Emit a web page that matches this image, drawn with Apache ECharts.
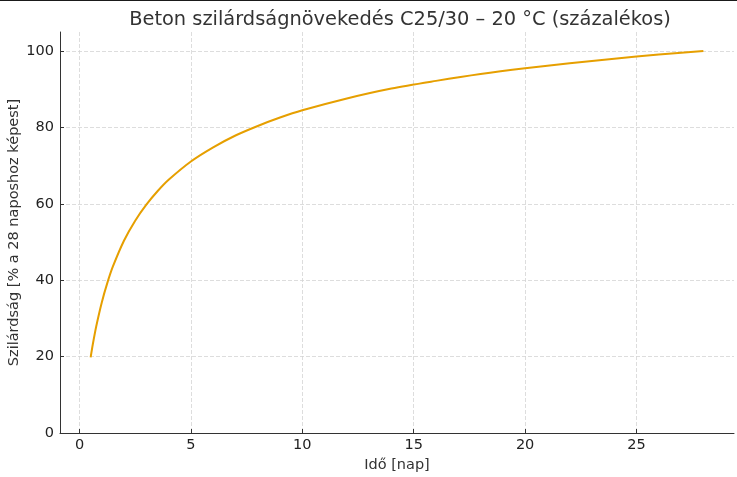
<!DOCTYPE html>
<html>
<head>
<meta charset="utf-8">
<script src="https://cdn.jsdelivr.net/npm/echarts@6/dist/echarts.min.js"></script>
<style>html,body{margin:0;padding:0;background:#fff}#c{width:737px;height:477px}</style>
</head>
<body>
<div id="c"></div>
<script>
const titleText = 'Beton szilárdságnövekedés C25/30 – 20 °C (százalékos)';
const xName = 'Idő [nap]';
const yName = 'Szilárdság [% a 28 naposhoz képest]';
const days = [0.5, 0.6, 0.75, 1, 1.25, 1.5, 2, 2.5, 3, 3.5, 4, 5, 6, 7, 8, 9, 10, 12, 14, 16, 18, 20, 22, 24, 26, 28];
const strength = [19.8, 23.3, 27.9, 34.2, 39.3, 43.6, 50.4, 55.6, 59.8, 63.3, 66.3, 71.1, 74.8, 77.9, 80.4, 82.6, 84.5, 87.6, 90.2, 92.2, 94.0, 95.5, 96.8, 98.0, 99.1, 100.0];
const xTicks = [0, 5, 10, 15, 20, 25];
const yTicks = [0, 20, 40, 60, 80, 100];

const chart = echarts.init(document.getElementById('c'), null, {renderer: 'canvas'});
const font = 'DejaVu Sans';
chart.setOption({
  animation: false,
  backgroundColor: '#ffffff',
  title: {
    text: titleText, left: 395, top: 5, textAlign: 'center',
    textStyle: {fontFamily: font, fontSize: 19.4, fontWeight: 'normal', color: '#333333'}
  },
  graphic: [{type: 'rect', shape: {x: 0, y: 0, width: 737, height: 1}, style: {fill: '#1a1a1a'}}],
  grid: {left: 60, right: 3, top: 32, bottom: 44, containLabel: false, outerBoundsMode: 'none'},
  xAxis: {
    type: 'value', min: -0.875, max: 29.375,
    name: xName, nameLocation: 'middle', nameGap: 25, nameMoveOverlap: false,
    nameTextStyle: {fontFamily: font, fontSize: 14.5, color: '#333333'},
    axisLine: {show: true, onZero: false, lineStyle: {color: '#333333', width: 1}},
    axisTick: {show: true, inside: true, length: 4, customValues: xTicks, lineStyle: {color: '#333333'}},
    axisLabel: {customValues: xTicks, fontFamily: font, fontSize: 14.5, color: '#222222', margin: 5},
    splitLine: {show: true, lineStyle: {color: '#d4d4d4', type: [4, 2], width: 0.8}}
  },
  yAxis: {
    type: 'value', min: 0, max: 105,
    name: yName, nameLocation: 'middle', nameGap: 38, nameMoveOverlap: false,
    nameTextStyle: {fontFamily: font, fontSize: 14.5, color: '#333333'},
    axisLine: {show: true, onZero: false, lineStyle: {color: '#333333', width: 1}},
    axisTick: {show: true, inside: true, length: 4, customValues: yTicks, lineStyle: {color: '#333333'}},
    axisLabel: {customValues: yTicks, fontFamily: font, fontSize: 14.5, color: '#222222', margin: 6},
    splitLine: {show: true, lineStyle: {color: '#d4d4d4', type: [4, 2], width: 0.8}}
  },
  series: [{
    type: 'line', showSymbol: false, smooth: 0.3,
    data: days.map((d, i) => [d, strength[i]]),
    lineStyle: {color: '#E69F00', width: 2},
    itemStyle: {color: '#E69F00'}
  }]
});
</script>
</body>
</html>
